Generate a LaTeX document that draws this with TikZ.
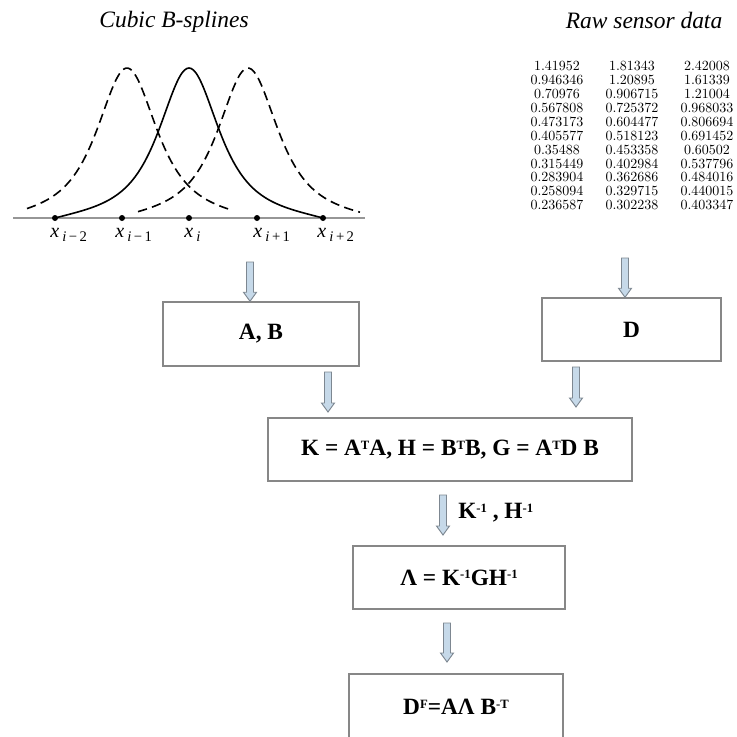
\documentclass[tikz,border=0pt]{standalone}
\usepackage{fontspec}
\usepackage{array}
\newfontfamily\tnr{Liberation Serif}
\usetikzlibrary{calc}
\definecolor{boxgray}{RGB}{135,135,135}
\definecolor{arrfill}{RGB}{198,217,233}
\definecolor{arrline}{RGB}{125,135,145}
\definecolor{axisgray}{RGB}{150,150,150}
\newcommand{\barrow}[2]{\draw[barrow] ($(#1)+(-3.5,0)$) -- ($(#2)+(-3.5,-9)$) -- ($(#2)+(-6.5,-9)$) -- (#2) -- ($(#2)+(6.5,-9)$) -- ($(#2)+(3.5,-9)$) -- ($(#1)+(3.5,0)$) -- cycle;}
\newcommand{\ksub}[1]{\raisebox{-3.5pt}{\fontsize{11}{11}\selectfont #1}}
\newcommand{\spx}[1]{\raisebox{4.8pt}{\fontsize{9.5}{9.5}\selectfont #1}}
\tikzset{
 procbox/.style={draw=boxgray, line width=1.1pt, inner sep=0pt, font=\tnr\fontsize{17.5}{20}\selectfont\bfseries},
 barrow/.style={fill=arrfill, draw=arrline, line width=0.7pt},
 spl/.style={line width=1.2pt},
 dspl/.style={line width=1.2pt, dash pattern=on 7pt off 4pt},
 knot/.style={circle, fill=black, inner sep=0pt, minimum size=4.5pt},
 klabel/.style={anchor=base west, inner sep=0pt, font=\tnr\fontsize{15}{15}\selectfont},
 ttl/.style={font=\tnr\itshape\fontsize{17.6}{20}\selectfont}
}
\begin{document}
\begin{tikzpicture}[x=0.75pt,y=-0.75pt,
  declare function={bel(\u)=150*(1/((1+\u*\u/21.3444)^1.5)-0.0346*(\u*\u/179.56)*(\u*\u/179.56));}]
\useasboundingbox (0,0) rectangle (737,736);

% titles
\node[ttl] (t1) at (174,22) {Cubic B-splines};
\node[ttl] (t2) at (644,20) {Raw sensor data};

% axis
\coordinate (ax1) at (13,218);
\coordinate (ax2) at (365,218);
\draw[axisgray, line width=0.8pt] (ax1) -- (ax2);

% splines
\draw[spl] plot[domain=-13.4:13.4, samples=121, smooth, variable=\u] ({189+10*\u},{218-bel(\u)});
\draw[dspl] plot[domain=-10:10.6, samples=101, smooth, variable=\u] ({127+10*\u},{218-bel(\u)});
\draw[dspl] plot[domain=-11:11.2, samples=101, smooth, variable=\u] ({248+10*\u},{218-bel(\u)});

% knots
\node[knot] (k1) at (55,218) {};
\node[knot] (k2) at (122,218) {};
\node[knot] (k3) at (189,218) {};
\node[knot] (k4) at (257,218) {};
\node[knot] (k5) at (323,218) {};
\node[klabel] (l1) at (50,237) {\textit{x}\,\ksub{\textit{i}\,−\,2}};
\node[klabel] (l2) at (115,237) {\textit{x}\,\ksub{\textit{i}\,−\,1}};
\node[klabel] (l3) at (184,237) {\textit{x}\,\ksub{\textit{i}}};
\node[klabel] (l4) at (253,237) {\textit{x}\,\ksub{\textit{i}\,+\,1}};
\node[klabel] (l5) at (317,237) {\textit{x}\,\ksub{\textit{i}\,+\,2}};

% data table
\node[inner sep=0pt] (tab) at (632,137.5) {\fontsize{10.5}{10.4}\selectfont\setlength{\tabcolsep}{0pt}%
\begin{tabular}{*{3}{>{\centering\arraybackslash}p{56.25pt}}}
1.41952 & 1.81343 & 2.42008\\
0.946346 & 1.20895 & 1.61339\\
0.70976 & 0.906715 & 1.21004\\
0.567808 & 0.725372 & 0.968033\\
0.473173 & 0.604477 & 0.806694\\
0.405577 & 0.518123 & 0.691452\\
0.35488 & 0.453358 & 0.60502\\
0.315449 & 0.402984 & 0.537796\\
0.283904 & 0.362686 & 0.484016\\
0.258094 & 0.329715 & 0.440015\\
0.236587 & 0.302238 & 0.403347
\end{tabular}};

% boxes
\node[procbox, minimum width=147pt, minimum height=48pt] (ab) at (261,334) {A, B};
\node[procbox, minimum width=134.25pt, minimum height=47.25pt] (d) at (631.5,329.5) {D};
\node[procbox, minimum width=273pt, minimum height=47.25pt] (k) at (450,449.5) {K = A\spx{T}A, H = B\spx{T}B, G = A\spx{T}D B};
\node[procbox, minimum width=159pt, minimum height=47.25pt] (lam) at (459,577.5) {Λ = K\spx{-1}GH\spx{-1}};
\node[procbox, minimum width=160.5pt, minimum height=49.5pt] (df) at (456,707) {D\spx{F}=AΛ B\spx{-T}};

% arrows
\coordinate (a1s) at (250,262);
\coordinate (a1e) at (ab.north -| a1s);
\coordinate (a2s) at (625,258);
\coordinate (a2e) at (d.north -| a2s);
\coordinate (a3s) at (328,372);
\coordinate (a3e) at (328,412);
\coordinate (a4s) at (576,367);
\coordinate (a4e) at (576,407);
\coordinate (a5s) at (443,495);
\coordinate (a5e) at (443,535);
\coordinate (a6s) at (447,623);
\coordinate (a6e) at (447,662);
\barrow{a1s}{a1e}
\barrow{a2s}{a2e}
\barrow{a3s}{a3e}
\barrow{a4s}{a4e}
\barrow{a5s}{a5e}
\barrow{a6s}{a6e}
\node[anchor=west, inner sep=0pt, font=\tnr\fontsize{17.5}{20}\selectfont\bfseries] (kh) at (458,513) {K\spx{-1} , H\spx{-1}};
\end{tikzpicture}
\end{document}
